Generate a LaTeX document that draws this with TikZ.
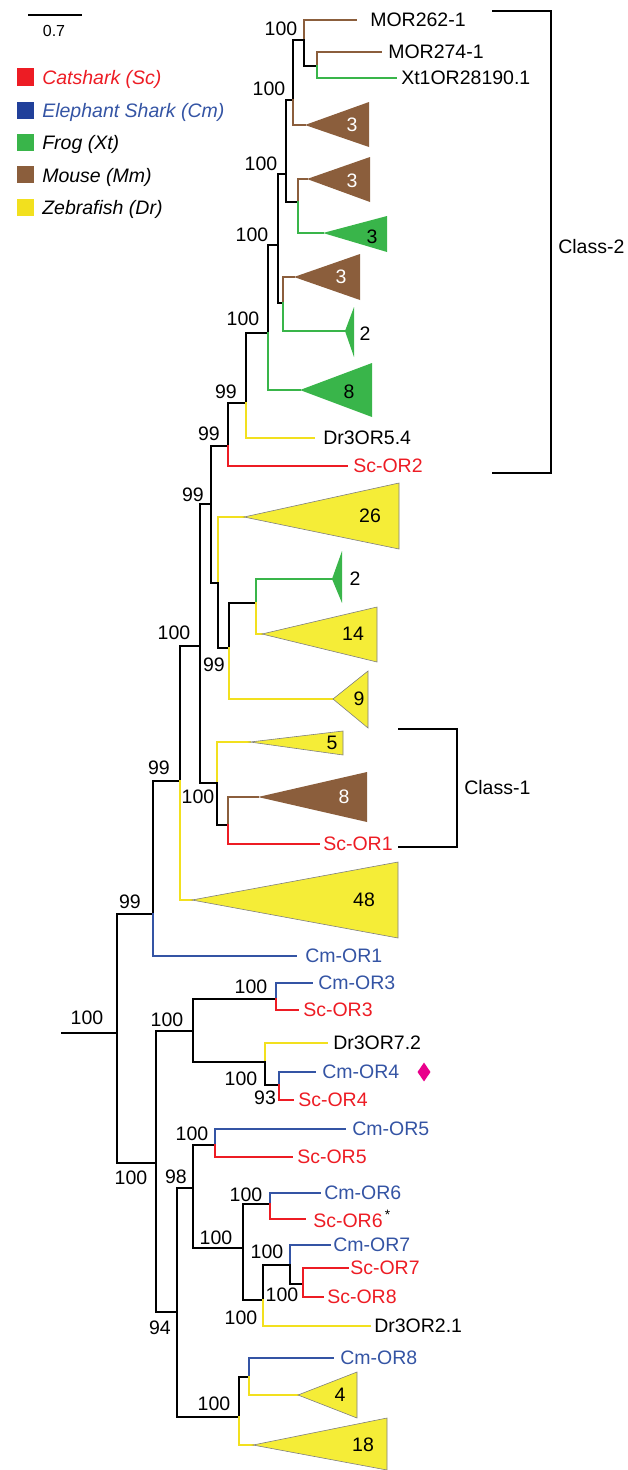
\documentclass[tikz,border=0pt]{standalone}
\usepackage{fontspec}
\setmainfont{Liberation Sans}
\usetikzlibrary{shapes.geometric}
\definecolor{scred}{RGB}{237, 28, 36}
\definecolor{cmblue}{RGB}{52, 84, 164}
\definecolor{cmsquare}{RGB}{33, 64, 154}
\definecolor{xtgreen}{RGB}{57, 181, 74}
\definecolor{mmbrown}{RGB}{139, 94, 60}
\definecolor{dryellow}{RGB}{242, 224, 30}
\definecolor{cladeyellow}{RGB}{245, 237, 55}
\definecolor{markpink}{RGB}{233, 0, 139}
\newcommand{\treefont}{\fontsize{19.5}{22}\selectfont}

\begin{document}
\begin{tikzpicture}[x=1pt, y=-1pt, font=\treefont, line width=2.6pt, line cap=rect,
    boot/.style={inner sep=0pt},
    leaf/.style={anchor=west, inner sep=0pt},
    key/.style={anchor=base west, inner sep=0pt, font=\treefont\itshape},
    clade/.style={draw=gray, line width=0.6pt, fill=cladeyellow},
    count/.style={inner sep=0pt},
    tint/.style={line width=2.2pt}]
    \useasboundingbox (0,0) rectangle (627,1470);

    % 1. Scale bar and legend
    \draw[tint] (29,15) -- (81,15);
    \node[inner sep=0pt, font=\fontsize{16}{18}\selectfont] (scale) at (54,31) {0.7};
    \fill[scred] (17,68) rectangle (34,86);
    \fill[cmsquare] (17,102) rectangle (34,119);
    \fill[xtgreen] (17,134) rectangle (34,151);
    \fill[mmbrown] (17,166) rectangle (34,183);
    \fill[dryellow] (17,199) rectangle (34,216);
    \node[key, text=scred] (kSc) at (41,84) {Catshark (Sc)};
    \node[key, text=cmblue] (kCm) at (41,117) {Elephant Shark (Cm)};
    \node[key] (kXt) at (41,149) {Frog (Xt)};
    \node[key] (kMm) at (41,182) {Mouse (Mm)};
    \node[key] (kDr) at (41,214) {Zebrafish (Dr)};

    % 2. Internal nodes (x of the split, y where the parent joins)
    \coordinate (root) at (62,1033);
    \coordinate (n1) at (117,1033);
    \coordinate (n2) at (153,914);
    \coordinate (n3) at (180,781);
    \coordinate (n4) at (200,646);
    \coordinate (n5) at (211,504);
    \coordinate (n6) at (228,446);
    \coordinate (n7) at (246,403);
    \coordinate (n8) at (268,333);
    \coordinate (n9) at (278,245);
    \coordinate (n10) at (286,174);
    \coordinate (n11) at (293,100);
    \coordinate (n12) at (304,40);
    \coordinate (n13) at (317,66);
    \coordinate (n14) at (298,202);
    \coordinate (n15) at (283,303);
    \coordinate (n16) at (218,583);
    \coordinate (n17) at (229,648);
    \coordinate (n18) at (256,603);
    \coordinate (n19) at (217,783);
    \coordinate (n20) at (228,825);
    \coordinate (m1) at (156,1163);
    \coordinate (m2) at (193,1031);
    \coordinate (m3) at (276,999);
    \coordinate (m4) at (265,1062);
    \coordinate (m5) at (279,1085);
    \coordinate (m6) at (177,1312);
    \coordinate (m7) at (193,1188);
    \coordinate (m8) at (215,1145);
    \coordinate (m9) at (243,1248);
    \coordinate (m10) at (270,1204);
    \coordinate (m11) at (263,1300);
    \coordinate (m12) at (290,1265);
    \coordinate (m13) at (303,1284);
    \coordinate (m14) at (239,1417);
    \coordinate (m15) at (249,1377);

    % 3. Leaf tips and names
    \coordinate (tMOR262) at (356,20);   \node[leaf] (lMOR262) at (369,20) {MOR262-1};
    \coordinate (tMOR274) at (381,52);   \node[leaf] (lMOR274) at (387,52) {MOR274-1};
    \coordinate (tXt) at (396,78);       \node[leaf] (lXt) at (400,78) {Xt1OR28190.1};
    \coordinate (tDr54) at (314,438);    \node[leaf] (lDr54) at (322,438) {Dr3OR5.4};
    \coordinate (tScOR2) at (347,466);   \node[leaf, text=scred] (lScOR2) at (352,466) {Sc-OR2};
    \coordinate (tScOR1) at (319,844);   \node[leaf, text=scred] (lScOR1) at (322,844) {Sc-OR1};
    \coordinate (tCmOR1) at (296,956);   \node[leaf, text=cmblue] (lCmOR1) at (304,956) {Cm-OR1};
    \coordinate (tCmOR3) at (312,983);   \node[leaf, text=cmblue] (lCmOR3) at (317,983) {Cm-OR3};
    \coordinate (tScOR3) at (298,1010);  \node[leaf, text=scred] (lScOR3) at (302,1010) {Sc-OR3};
    \coordinate (tDr72) at (327,1043);   \node[leaf] (lDr72) at (332,1043) {Dr3OR7.2};
    \coordinate (tCmOR4) at (315,1072);  \node[leaf, text=cmblue] (lCmOR4) at (321,1072) {Cm-OR4};
    \coordinate (tScOR4) at (293,1100);  \node[leaf, text=scred] (lScOR4) at (297,1100) {Sc-OR4};
    \coordinate (tCmOR5) at (345,1129);  \node[leaf, text=cmblue] (lCmOR5) at (351,1129) {Cm-OR5};
    \coordinate (tScOR5) at (292,1157);  \node[leaf, text=scred] (lScOR5) at (296,1157) {Sc-OR5};
    \coordinate (tCmOR6) at (320,1193);  \node[leaf, text=cmblue] (lCmOR6) at (323,1193) {Cm-OR6};
    \coordinate (tScOR6) at (305,1219);  \node[leaf, text=scred] (lScOR6) at (312,1219) {Sc-OR6\textsuperscript{\,\color{black}*}};
    \coordinate (tCmOR7) at (330,1245);  \node[leaf, text=cmblue] (lCmOR7) at (332,1245) {Cm-OR7};
    \coordinate (tScOR7) at (348,1268);  \node[leaf, text=scred] (lScOR7) at (349,1268) {Sc-OR7};
    \coordinate (tScOR8) at (323,1297);  \node[leaf, text=scred] (lScOR8) at (326,1297) {Sc-OR8};
    \coordinate (tDr21) at (370,1326);   \node[leaf] (lDr21) at (373,1326) {Dr3OR2.1};
    \coordinate (tCmOR8) at (333,1358);  \node[leaf, text=cmblue] (lCmOR8) at (339,1358) {Cm-OR8};

    % 4. Apexes of the collapsed clades
    \coordinate (c3a) at (305,125);
    \coordinate (c3b) at (307,179);
    \coordinate (c3c) at (323,233);
    \coordinate (c3d) at (294,277);
    \coordinate (c2a) at (345,331);
    \coordinate (c8g) at (300,390);
    \coordinate (c26) at (244,517);
    \coordinate (c2b) at (332,579);
    \coordinate (c14) at (262,634);
    \coordinate (c9) at (333,699);
    \coordinate (c5) at (250,742);
    \coordinate (c8b) at (258,797);
    \coordinate (c48) at (192,900);
    \coordinate (c4) at (298,1395);
    \coordinate (c18) at (253,1445);

    % 5. Branches (upper part)
    \draw (root) -- (n1);
    \draw (n1) |- (n2);
    \draw (n1) |- (m1);
    \draw (n2) |- (n3);
    \draw[tint, cmblue] (n2) |- (tCmOR1);
    \draw (n3) |- (n4);
    \draw[tint, dryellow] (n3) |- (c48);
    \draw (n4) |- (n5);
    \draw (n4) |- (n19);
    \draw (n5) |- (n6);
    \draw (n5) |- (n16);
    \draw (n6) |- (n7);
    \draw[tint, scred] (n6) |- (tScOR2);
    \draw (n7) |- (n8);
    \draw[tint, dryellow] (n7) |- (tDr54);
    \draw (n8) |- (n9);
    \draw[tint, xtgreen] (n8) |- (c8g);
    \draw (n9) |- (n10);
    \draw (n9) |- (n15);
    \draw (n10) |- (n11);
    \draw (n10) |- (n14);
    \draw (n11) |- (n12);
    \draw[tint, mmbrown] (n11) |- (c3a);
    \draw[tint, mmbrown] (n12) |- (tMOR262);
    \draw (n12) |- (n13);
    \draw[tint, mmbrown] (n13) |- (tMOR274);
    \draw[tint, xtgreen] (n13) |- (tXt);
    \draw[tint, mmbrown] (n14) |- (c3b);
    \draw[tint, xtgreen] (n14) |- (c3c);
    \draw[tint, mmbrown] (n15) |- (c3d);
    \draw[tint, xtgreen] (n15) |- (c2a);
    \draw[tint, dryellow] (n16) |- (c26);
    \draw (n16) |- (n17);
    \draw (n17) |- (n18);
    \draw[tint, dryellow] (n17) |- (c9);
    \draw[tint, xtgreen] (n18) |- (c2b);
    \draw[tint, dryellow] (n18) |- (c14);
    \draw[tint, dryellow] (n19) |- (c5);
    \draw (n19) |- (n20);
    \draw[tint, mmbrown] (n20) |- (c8b);
    \draw[tint, scred] (n20) |- (tScOR1);

    % 6. Branches (lower part)
    \draw (m1) |- (m2);
    \draw (m1) |- (m6);
    \draw (m2) |- (m3);
    \draw (m2) |- (m4);
    \draw[tint, cmblue] (m3) |- (tCmOR3);
    \draw[tint, scred] (m3) |- (tScOR3);
    \draw[tint, dryellow] (m4) |- (tDr72);
    \draw (m4) |- (m5);
    \draw[tint, cmblue] (m5) |- (tCmOR4);
    \draw[tint, scred] (m5) |- (tScOR4);
    \draw (m6) |- (m7);
    \draw (m6) |- (m14);
    \draw (m7) |- (m8);
    \draw (m7) |- (m9);
    \draw[tint, cmblue] (m8) |- (tCmOR5);
    \draw[tint, scred] (m8) |- (tScOR5);
    \draw (m9) |- (m10);
    \draw (m9) |- (m11);
    \draw[tint, cmblue] (m10) |- (tCmOR6);
    \draw[tint, scred] (m10) |- (tScOR6);
    \draw (m11) |- (m12);
    \draw[tint, dryellow] (m11) |- (tDr21);
    \draw[tint, cmblue] (m12) |- (tCmOR7);
    \draw (m12) |- (m13);
    \draw[tint, scred] (m13) |- (tScOR7);
    \draw[tint, scred] (m13) |- (tScOR8);
    \draw (m14) |- (m15);
    \draw[tint, dryellow] (m14) |- (c18);
    \draw[tint, cmblue] (m15) |- (tCmOR8);
    \draw[tint, dryellow] (m15) |- (c4);

    % 7. Collapsed clades with their sizes
    \fill[mmbrown] (c3a) -- (369,102) -- (369,147) -- cycle;
    \node[count, text=white] (k3a) at (352,125) {3};
    \fill[mmbrown] (c3b) -- (370,157) -- (370,202) -- cycle;
    \node[count, text=white] (k3b) at (352,181) {3};
    \fill[xtgreen] (c3c) -- (387,216) -- (387,252) -- cycle;
    \node[count] (k3c) at (372,237) {3};
    \fill[mmbrown] (c3d) -- (360,254) -- (360,300) -- cycle;
    \node[count, text=white] (k3d) at (341,277) {3};
    \fill[xtgreen] (c2a) -- (354,307) -- (354,357) -- cycle;
    \node[count] (k2a) at (365,334) {2};
    \fill[xtgreen] (c8g) -- (372,363) -- (372,417) -- cycle;
    \node[count] (k8g) at (349,392) {8};
    \filldraw[clade] (c26) -- (399,483) -- (399,549) -- cycle;
    \node[count] (k26) at (370,516) {26};
    \fill[xtgreen] (c2b) -- (342,551) -- (342,603) -- cycle;
    \node[count] (k2b) at (355,579) {2};
    \filldraw[clade] (c14) -- (377,607) -- (377,662) -- cycle;
    \node[count] (k14) at (353,634) {14};
    \filldraw[clade] (c9) -- (368,671) -- (368,728) -- cycle;
    \node[count] (k9) at (359,699) {9};
    \filldraw[clade] (c5) -- (343,731) -- (343,755) -- cycle;
    \node[count] (k5) at (332,743) {5};
    \fill[mmbrown] (c8b) -- (367,772) -- (367,822) -- cycle;
    \node[count, text=white] (k8b) at (344,797) {8};
    \filldraw[clade] (c48) -- (398,862) -- (398,938) -- cycle;
    \node[count] (k48) at (364,900) {48};
    \filldraw[clade] (c4) -- (357,1372) -- (357,1418) -- cycle;
    \node[count] (k4) at (340,1395) {4};
    \filldraw[clade] (c18) -- (387,1418) -- (387,1470) -- cycle;
    \node[count] (k18) at (363,1445) {18};

    % 8. Bootstrap values
    \node[boot] (b12) at (281,29) {100};
    \node[boot] (b11) at (269,89) {100};
    \node[boot] (b10) at (261,164) {100};
    \node[boot] (b9) at (252,235) {100};
    \node[boot] (b8) at (243,319) {100};
    \node[boot] (b7) at (226,392) {99};
    \node[boot] (b6) at (209,434) {99};
    \node[boot] (b5) at (193,495) {99};
    \node[boot] (b4) at (174,633) {100};
    \node[boot] (b17) at (214,665) {99};
    \node[boot] (b19) at (198,797) {100};
    \node[boot] (b3) at (159,768) {99};
    \node[boot] (b2) at (130,902) {99};
    \node[boot] (b1) at (87,1018) {100};
    \node[boot] (bm2) at (167,1020) {100};
    \node[boot] (bm3) at (251,987) {100};
    \node[boot] (bm4) at (241,1079) {100};
    \node[boot] (bm5) at (265,1098) {93};
    \node[boot] (bm1) at (131,1178) {100};
    \node[boot] (bm7) at (176,1177) {98};
    \node[boot] (bm8) at (192,1134) {100};
    \node[boot] (bm6) at (160,1328) {94};
    \node[boot] (bm10) at (246,1195) {100};
    \node[boot] (bm9) at (216,1238) {100};
    \node[boot] (bm11) at (241,1318) {100};
    \node[boot] (bm12) at (267,1252) {100};
    \node[boot] (bm13) at (282,1295) {100};
    \node[boot] (bm14) at (214,1404) {100};

    % 9. Class brackets and marker
    \draw (493,11) -- (551,11) -- (551,473) -- (493,473);
    \node[leaf] (class2) at (557,247) {Class-2};
    \draw (399,729) -- (457,729) -- (457,847) -- (399,847);
    \node[leaf] (class1) at (463,788) {Class-1};
    \node[diamond, fill=markpink, inner sep=0pt, minimum width=14pt, minimum height=20pt] (mark4) at (424,1072) {};

\end{tikzpicture}
\end{document}
